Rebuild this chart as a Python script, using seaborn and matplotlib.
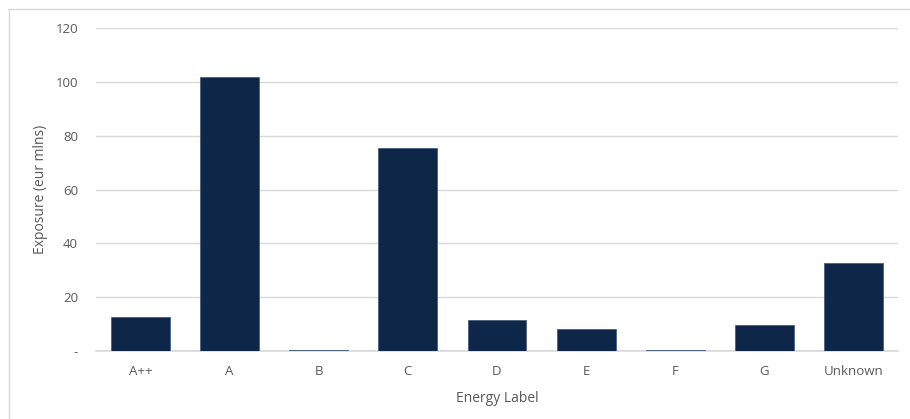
import matplotlib
matplotlib.use("Agg")
import matplotlib.pyplot as plt
from matplotlib.lines import Line2D
from matplotlib.ticker import FuncFormatter
import seaborn as sns
import pandas as pd

# Exposure by energy label (EUR millions)
labels = ["A++", "A", "B", "C", "D", "E", "F", "G", "Unknown"]
exposure = [12.6, 102.0, 0.5, 75.3, 11.5, 8.3, 0.4, 9.8, 32.7]
y_ticks = [0, 20, 40, 60, 80, 100, 120]

df = pd.DataFrame({"Energy Label": labels, "Exposure": exposure})

sns.set_theme(style="white")
plt.rcParams["font.family"] = ["Open Sans", "DejaVu Sans"]

text_color = "#595959"
grid_color = "#D9D9D9"
bar_color = "#0E2749"

fig = plt.figure(figsize=(9.1, 4.19), dpi=100)
ax = fig.add_axes([0.1055, 0.162, 0.8813, 0.771])

sns.barplot(data=df, x="Energy Label", y="Exposure", color=bar_color,
            width=0.66, edgecolor="#4A5F7E", linewidth=0.6, ax=ax,
            saturation=1, zorder=3)

ax.set_ylim(0, 120)
ax.set_xlim(-0.5, len(labels) - 0.5)
ax.set_yticks(y_ticks)
ax.yaxis.set_major_formatter(FuncFormatter(lambda v, p: "-" if v == 0 else f"{v:.0f}"))
ax.grid(axis="y", color=grid_color, linewidth=1.0, zorder=0)
ax.set_axisbelow(True)

for side in ["top", "right", "left"]:
    ax.spines[side].set_visible(False)
ax.spines["bottom"].set_color(grid_color)
ax.spines["bottom"].set_linewidth(1.2)

ax.tick_params(axis="both", length=0, colors=text_color, labelsize=9.5)
ax.tick_params(axis="y", pad=13)
ax.tick_params(axis="x", pad=10)

ax.set_xlabel("Energy Label", color=text_color, fontsize=10, labelpad=9)
ax.set_ylabel("Exposure (eur mlns)", color=text_color, fontsize=10, labelpad=5)

# Chart-area frame (top and left edges)
fig.add_artist(Line2D([8 / 910, 1.0], [1 - 9.5 / 419, 1 - 9.5 / 419],
                      transform=fig.transFigure, color=grid_color, linewidth=1))
fig.add_artist(Line2D([8.5 / 910, 8.5 / 910], [0, 1 - 9.5 / 419],
                      transform=fig.transFigure, color=grid_color, linewidth=1))

fig.savefig("out.png", dpi=100, facecolor="white")
